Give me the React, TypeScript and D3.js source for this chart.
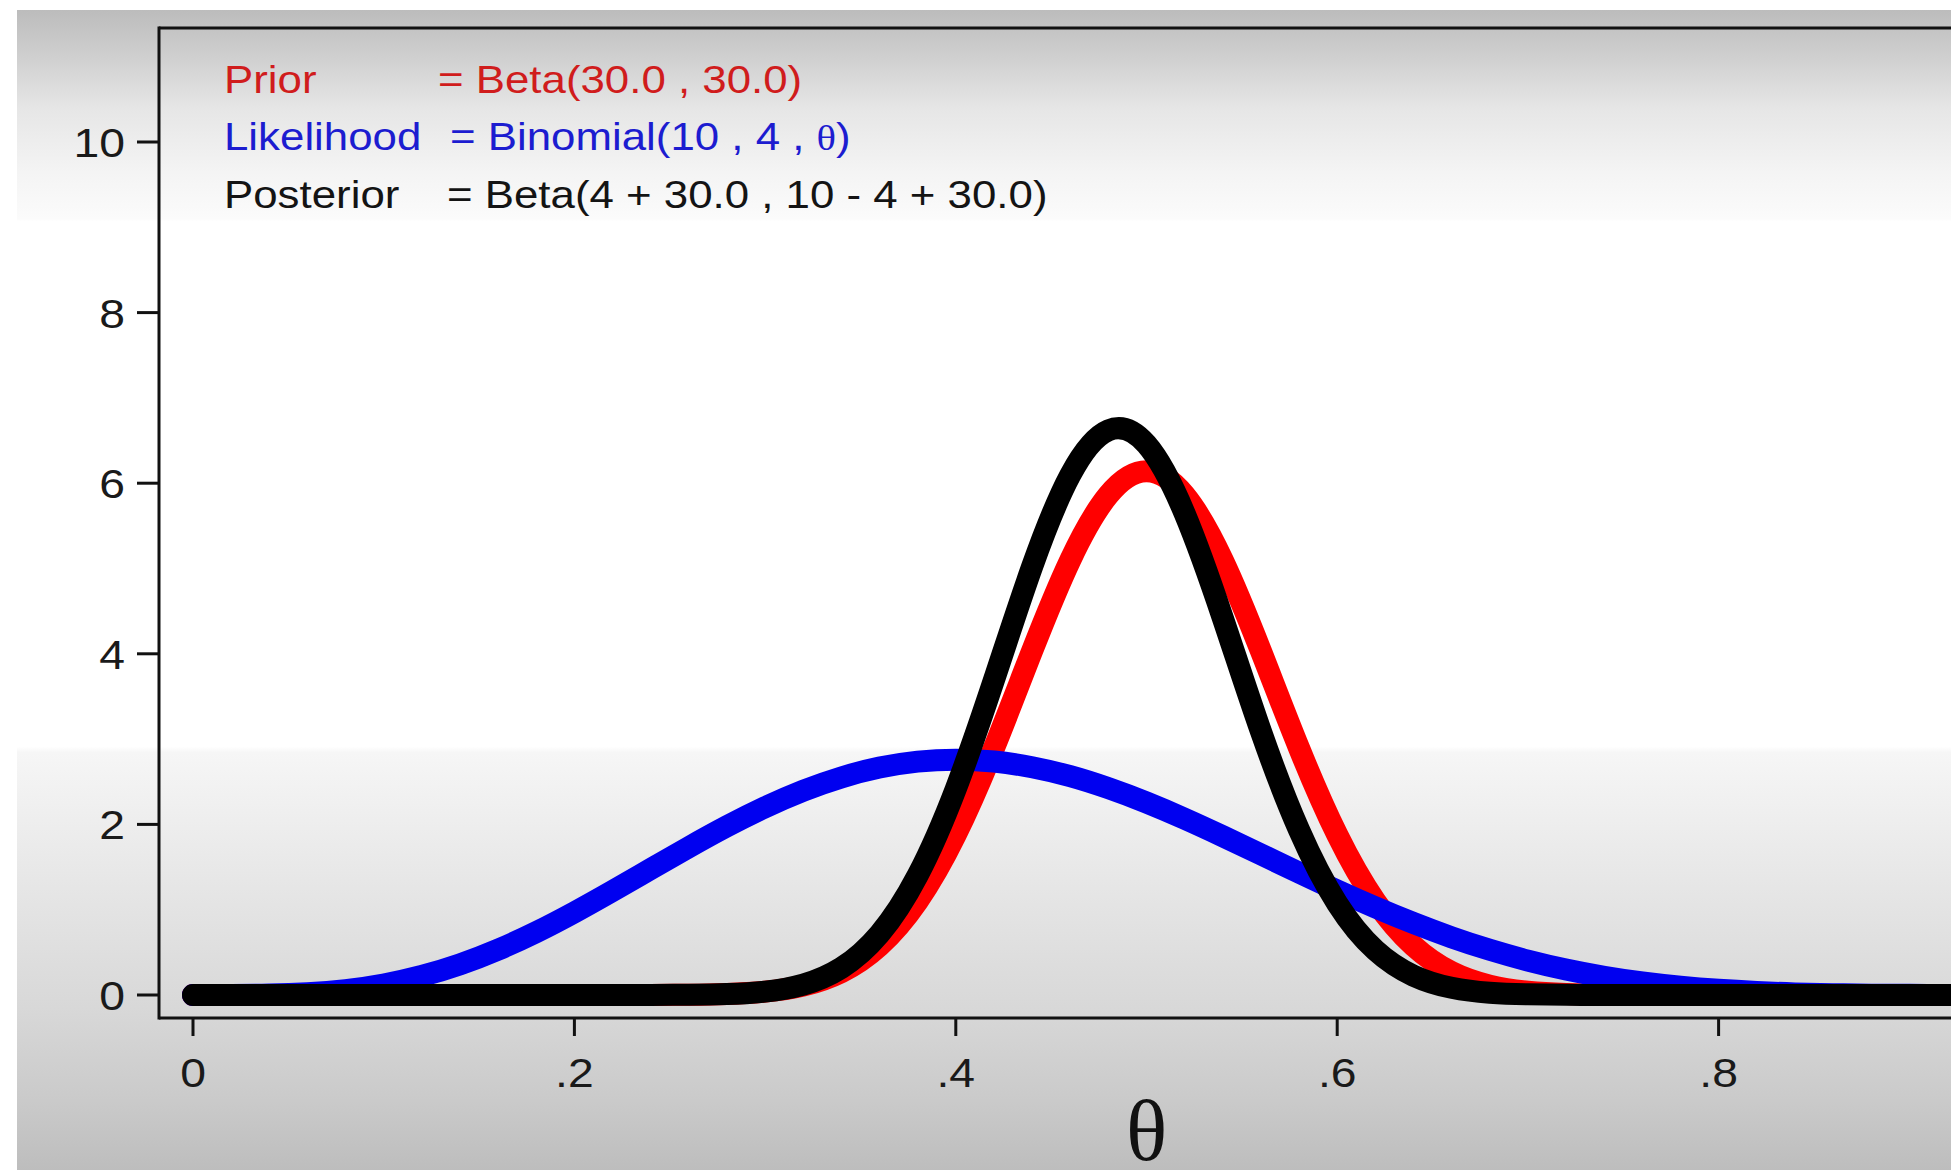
import React from "react";
import * as d3 from "d3";

// theta grid and the three densities
const theta = [
  0, 0.02, 0.04, 0.06, 0.08, 0.1, 0.12, 0.14, 0.16, 0.18, 0.2, 0.22, 0.24, 0.26, 0.28, 0.3, 0.32,
  0.34, 0.36, 0.38, 0.4, 0.42, 0.44, 0.46, 0.48, 0.5, 0.52, 0.54, 0.56, 0.58, 0.6, 0.62, 0.64, 0.66,
  0.68, 0.7, 0.72, 0.74, 0.76, 0.78, 0.8, 0.82, 0.84, 0.86, 0.88, 0.9, 0.92, 0.94, 0.96, 0.98, 1,
];

const prior = [
  0, 0, 0, 0, 0, 0, 0, 0, 0, 0, 0, 0, 0.001, 0.003, 0.012, 0.039, 0.11, 0.268, 0.576, 1.099, 1.879,
  2.894, 4.032, 5.097, 5.861, 6.14, 5.861, 5.097, 4.032, 2.894, 1.879, 1.099, 0.576, 0.268, 0.11,
  0.039, 0.012, 0.003, 0.001, 0, 0, 0, 0, 0, 0, 0, 0, 0, 0, 0, 0,
];

const likelihood = [
  0, 0.0003, 0.005, 0.021, 0.057, 0.123, 0.223, 0.359, 0.532, 0.737, 0.969, 1.219, 1.477, 1.733,
  1.978, 2.201, 2.395, 2.551, 2.666, 2.736, 2.759, 2.737, 2.67, 2.565, 2.424, 2.256, 2.066, 1.861,
  1.649, 1.435, 1.226, 1.028, 0.844, 0.677, 0.53, 0.404, 0.299, 0.214, 0.147, 0.097, 0.061, 0.036,
  0.019, 0.01, 0.004, 0.002, 0.0005, 0.0001, 0, 0, 0,
];

const posterior = [
  0, 0, 0, 0, 0, 0, 0, 0, 0, 0, 0, 0, 0.001, 0.003, 0.011, 0.04, 0.122, 0.318, 0.715, 1.402, 2.417,
  3.692, 5.02, 6.095, 6.62, 6.456, 5.645, 4.421, 3.09, 1.934, 1.073, 0.526, 0.227, 0.085, 0.027,
  0.008, 0.002, 0, 0, 0, 0, 0, 0, 0, 0, 0, 0, 0, 0, 0, 0,
];

const yTicks = [0, 2, 4, 6, 8, 10];
const xTicks = [0, 0.2, 0.4, 0.6, 0.8];
const xTickLabels = ["0", ".2", ".4", ".6", ".8"];

const legendNames = ["Prior", "Likelihood", "Posterior"];
const legendFormulas = [
  "= Beta(30.0 , 30.0)",
  "= Binomial(10 , 4 , θ)",
  "= Beta(4 + 30.0 , 10 - 4 + 30.0)",
];
const legendColors = ["#d01c1c", "#1c1cd0", "#141414"];

const W = 1951;
const H = 1170;
const SX = 1.13; // the frame is stretched a bit sideways
const SANS = "'Liberation Sans', Arial, sans-serif";
const SERIF = "'Liberation Serif', 'Times New Roman', serif";

const x = d3.scaleLinear().domain([0, 1]).range([193, 2100]);
const y = d3.scaleLinear().domain([0, 10]).range([995, 142]);

const line = d3
  .line<number>()
  .x((_, i) => x(theta[i]))
  .y((d) => y(d))
  .curve(d3.curveNatural);

const series = [
  { values: prior, color: "#ff0000" },
  { values: likelihood, color: "#0000f0" },
  { values: posterior, color: "#000000" },
];

const Label = ({ tx, ty, anchor = "start", size = 41, fill = "#1a1a1a", children }: any) => (
  <text
    transform={`translate(${tx},${ty}) scale(${SX},1)`}
    textAnchor={anchor}
    fontFamily={SANS}
    fontSize={size}
    fill={fill}
  >
    {children}
  </text>
);

const App = () => {
  const left = 159;
  const bottom = 1018;
  const top = 28;
  const rows = [93, 150, 208];
  const formulaX = [438, 450, 447];

  return (
    <svg
      width={W}
      height={H}
      style={{ position: "absolute", left: 0, top: 0, display: "block" }}
    >
      <defs>
        <linearGradient id="bg" x1="0" y1="0" x2="0" y2="1">
          <stop offset="0" stopColor="#bcbcbc" />
          <stop offset="0.04" stopColor="#cfcfcf" />
          <stop offset="0.085" stopColor="#e6e6e6" />
          <stop offset="0.14" stopColor="#f4f4f4" />
          <stop offset="0.18" stopColor="#fbfbfb" />
          <stop offset="0.182" stopColor="#ffffff" />
          <stop offset="0.635" stopColor="#ffffff" />
          <stop offset="0.64" stopColor="#f6f6f6" />
          <stop offset="0.72" stopColor="#ebebeb" />
          <stop offset="0.86" stopColor="#d8d8d8" />
          <stop offset="0.94" stopColor="#cacaca" />
          <stop offset="1" stopColor="#bdbdbd" />
        </linearGradient>
      </defs>
      <rect width={W} height={H} fill="#ffffff" />
      <rect x={17} y={10} width={W - 17} height={H - 10} fill="url(#bg)" />

      {/* frame */}
      <line x1={left} x2={W} y1={top} y2={top} stroke="#111" strokeWidth={3} />
      <line x1={left} x2={left} y1={top - 1.5} y2={bottom + 1.5} stroke="#111" strokeWidth={3} />
      <line x1={left} x2={W} y1={bottom} y2={bottom} stroke="#111" strokeWidth={3} />

      {/* y axis */}
      {yTicks.map((t) => (
        <g key={`y${t}`}>
          <line x1={137} x2={left} y1={y(t)} y2={y(t)} stroke="#111" strokeWidth={3} />
          <Label tx={125} ty={y(t) + 15} anchor="end">
            {String(t)}
          </Label>
        </g>
      ))}

      {/* x axis */}
      {xTicks.map((t, i) => (
        <g key={`x${t}`}>
          <line x1={x(t)} x2={x(t)} y1={bottom} y2={bottom + 18} stroke="#111" strokeWidth={3} />
          <Label tx={x(t)} ty={1087} anchor="middle">
            {xTickLabels[i]}
          </Label>
        </g>
      ))}
      <text
        x={x(0.5)}
        y={1160}
        textAnchor="middle"
        fontFamily={SERIF}
        fontSize={86}
        fill="#111"
      >
        θ
      </text>

      {/* curves */}
      {series.map((s, i) => (
        <path
          key={i}
          d={line(s.values) || ""}
          fill="none"
          stroke={s.color}
          strokeWidth={22}
          strokeLinecap="round"
          strokeLinejoin="round"
        />
      ))}

      {/* legend text */}
      {legendNames.map((name, i) => {
        const parts = legendFormulas[i].split("θ");
        return (
          <g key={name}>
            <Label tx={224} ty={rows[i]} size={38.8} fill={legendColors[i]}>
              {name}
            </Label>
            <Label tx={formulaX[i]} ty={rows[i]} size={38.8} fill={legendColors[i]}>
              {parts[0]}
              {parts.length > 1 && (
                <tspan fontFamily={SERIF} fontSize={36}>
                  θ
                </tspan>
              )}
              {parts.length > 1 && parts[1]}
            </Label>
          </g>
        );
      })}
    </svg>
  );
};

export default App;
